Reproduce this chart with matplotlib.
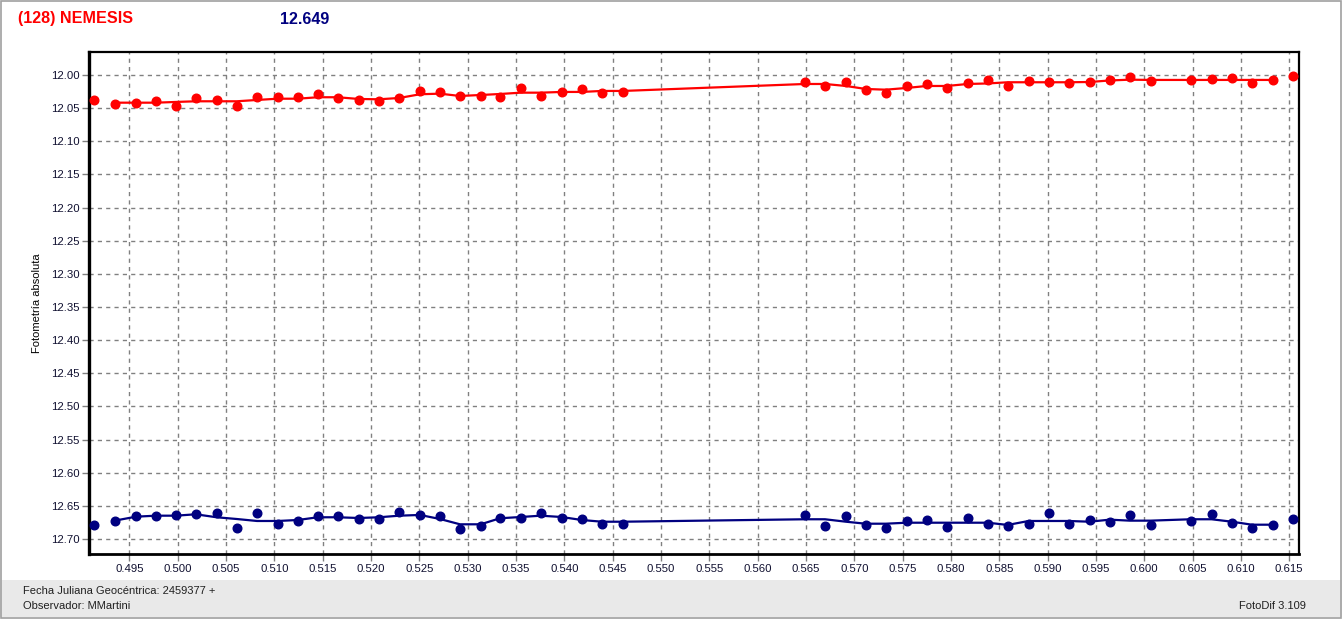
import matplotlib
matplotlib.use("Agg")
import matplotlib.pyplot as plt
from matplotlib.patches import Rectangle
from matplotlib.ticker import MultipleLocator, FormatStrFormatter

plt.rcParams['font.family'] = ['Liberation Sans', 'DejaVu Sans']

# ---- data (Fecha Juliana Geocéntrica - 2459377) ----
jd = [0.49138, 0.49349, 0.49569, 0.49776, 0.49983, 0.50187, 0.50404, 0.50611, 0.50821, 0.51035,
      0.51245, 0.51449, 0.51656, 0.51873, 0.52083, 0.52293, 0.52507, 0.52714, 0.52921, 0.53135,
      0.53335, 0.53549, 0.53756, 0.53973, 0.54180, 0.54390, 0.54607,
      0.56490, 0.56697, 0.56914, 0.57118, 0.57325, 0.57542, 0.57749, 0.57959, 0.58173, 0.58383,
      0.58587, 0.58804, 0.59011, 0.59221, 0.59435, 0.59642, 0.59851, 0.60066, 0.60480, 0.60697,
      0.60907, 0.61114, 0.61328, 0.61541]

mag_red = [12.0377, 12.0433, 12.0418, 12.0388, 12.0472, 12.0347, 12.0377, 12.0463, 12.0327, 12.0327,
           12.0327, 12.0287, 12.0342, 12.0377, 12.0388, 12.0342, 12.0237, 12.0261, 12.0317, 12.0312,
           12.0327, 12.0192, 12.0312, 12.0261, 12.0211, 12.0267, 12.0252,
           12.0101, 12.0161, 12.0110, 12.0222, 12.0272, 12.0161, 12.0131, 12.0192, 12.0125, 12.0071,
           12.0161, 12.0091, 12.0110, 12.0116, 12.0106, 12.0075, 12.0026, 12.0091, 12.0075, 12.0056,
           12.0041, 12.0116, 12.0075, 12.0011]

mag_blue = [12.6788, 12.6723, 12.6648, 12.6648, 12.6637, 12.6618, 12.6603, 12.6829, 12.6603, 12.6769,
            12.6733, 12.6648, 12.6648, 12.6702, 12.6702, 12.6588, 12.6633, 12.6648, 12.6853, 12.6803,
            12.6678, 12.6678, 12.6603, 12.6687, 12.6698, 12.6773, 12.6773,
            12.6637, 12.6803, 12.6653, 12.6784, 12.6829, 12.6723, 12.6713, 12.6814, 12.6678, 12.6773,
            12.6803, 12.6773, 12.6612, 12.6773, 12.6713, 12.6739, 12.6637, 12.6784, 12.6723, 12.6618,
            12.6758, 12.6834, 12.6784, 12.6693]

# smoothed curves (drawn from 2nd to second-to-last point)
smooth_red = [12.0418, 12.0418, 12.0418, 12.0407, 12.0397, 12.0397, 12.0397, 12.0377, 12.0358, 12.0358,
              12.0336, 12.0336, 12.0362, 12.0367, 12.0347, 12.0291, 12.0282, 12.0317, 12.0302, 12.0287,
              12.0267, 12.0267, 12.0256, 12.0256, 12.0241, 12.0241,
              12.0136, 12.0136, 12.0166, 12.0211, 12.0222, 12.0196, 12.0166, 12.0166, 12.0136, 12.0128,
              12.0110, 12.0110, 12.0110, 12.0110, 12.0106, 12.0083, 12.0071, 12.0075, 12.0075, 12.0075,
              12.0075, 12.0075, 12.0075]

smooth_blue = [12.6723, 12.6663, 12.6648, 12.6648, 12.6627, 12.6672, 12.6698, 12.6728, 12.6728, 12.6713,
               12.6672, 12.6672, 12.6683, 12.6672, 12.6648, 12.6637, 12.6698, 12.6778, 12.6778, 12.6687,
               12.6668, 12.6648, 12.6668, 12.6713, 12.6739, 12.6739,
               12.6702, 12.6702, 12.6739, 12.6769, 12.6769, 12.6754, 12.6754, 12.6754, 12.6754, 12.6754,
               12.6788, 12.6728, 12.6728, 12.6728, 12.6739, 12.6708, 12.6723, 12.6723, 12.6702, 12.6702,
               12.6739, 12.6784, 12.6784]

title_name = "(128) NEMESIS"
title_value = "12.649"
ylabel = "Fotometría absoluta"
footer_jd = "Fecha Juliana Geocéntrica: 2459377 +"
footer_obs = "Observador: MMartini"
footer_sw = "FotoDif 3.109"

W, H = 1342, 619
fig = plt.figure(figsize=(W / 100, H / 100), dpi=100)
fig.patch.set_facecolor('white')

def fx(px):
    return px / W

def fy(py):
    return 1 - py / H

# footer panel and window frame
fig.add_artist(Rectangle((0, fy(617)), 1, fy(580) - fy(617), transform=fig.transFigure,
                         facecolor='#e9e9e9', edgecolor='none', zorder=0))
fig.add_artist(Rectangle((fx(0.5), fy(617.5)), fx(1340), fy(0.5) - fy(617.5), transform=fig.transFigure,
                         facecolor='none', edgecolor='#a0a0a0', lw=1.2, zorder=5))

ax = fig.add_axes([fx(89.3), fy(554), fx(1298.5) - fx(89.3), fy(51.7) - fy(554)])
ax.set_facecolor('white')

ax.plot(jd[1:-1], smooth_red, color='#ff0000', lw=1.6, zorder=3)
ax.plot(jd, mag_red, 'o', color='#ff0000', ms=6.2, mec='#ff0000', zorder=4, clip_on=False)
ax.plot(jd[1:-1], smooth_blue, color='#000080', lw=1.6, zorder=3)
ax.plot(jd, mag_blue, 'o', color='#000080', ms=6.2, mec='#000080', zorder=4, clip_on=False)

ax.set_xlim(0.49086, 0.61596)
ax.set_ylim(12.7226, 11.9649)
ax.xaxis.set_major_locator(MultipleLocator(0.005))
ax.yaxis.set_major_locator(MultipleLocator(0.05))
ax.xaxis.set_major_formatter(FormatStrFormatter('%.3f'))
ax.yaxis.set_major_formatter(FormatStrFormatter('%.2f'))

ax.grid(True, color='#808080', linestyle=(0, (3, 3)), lw=1.0)
ax.tick_params(axis='both', length=5, width=1.0, color='#808080', labelsize=8.2,
               labelcolor='#101030', pad=2)

for side in ['left', 'bottom', 'top', 'right']:
    ax.spines[side].set_color('black')
ax.spines['left'].set_linewidth(2.4)
ax.spines['bottom'].set_linewidth(2.0)
ax.spines['top'].set_linewidth(1.6)
ax.spines['right'].set_linewidth(1.6)

fig.text(fx(37), fy(303), ylabel, rotation=90, ha='center', va='center', fontsize=8, color='black')

fig.text(fx(18), fy(19), title_name, ha='left', va='center', fontsize=11.6, fontweight='bold', color='#ff0000')
fig.text(fx(280), fy(19), title_value, ha='left', va='center', fontsize=11.6, fontweight='bold', color='#000080')

fig.text(fx(23), fy(591), footer_jd, ha='left', va='center', fontsize=8, color='#202020')
fig.text(fx(23), fy(606), footer_obs, ha='left', va='center', fontsize=8, color='#202020')
fig.text(fx(1306), fy(606), footer_sw, ha='right', va='center', fontsize=8, color='#202020')

fig.savefig('out.png', dpi=100, facecolor=fig.get_facecolor())
